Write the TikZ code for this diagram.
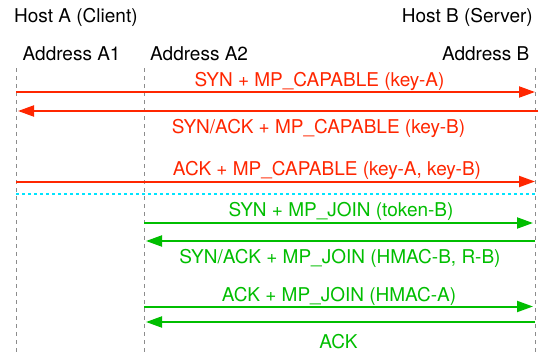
\documentclass[tikz,border=0pt]{standalone}
\usepackage{fontspec}
\setmainfont{TeX Gyre Heros}
\usetikzlibrary{arrows.meta}
\definecolor{msgred}{RGB}{255,38,0}
\definecolor{msggreen}{RGB}{0,190,0}
\definecolor{sepcyan}{RGB}{0,228,255}
\definecolor{lifegray}{RGB}{140,140,140}
\begin{document}
\begin{tikzpicture}[x=1pt,y=-1pt,
  txt/.style={inner sep=0pt,font=\fontsize{19}{23}\selectfont},
  lifeline/.style={draw=lifegray,line width=1pt,dash pattern=on 4pt off 4pt},
  msg/.style={line width=2pt,-{Triangle[length=16pt,width=11pt]}},
  redmsg/.style={msg,draw=msgred,fill=msgred},
  greenmsg/.style={msg,draw=msggreen,fill=msggreen},
  redlbl/.style={txt,anchor=base,text=msgred},
  greenlbl/.style={txt,anchor=base,text=msggreen},
  sep/.style={draw=sepcyan,line width=2pt,dash pattern=on 3pt off 3pt}]
\useasboundingbox (0,0) rectangle (550,356);
\fill[white] (0,0) rectangle (550,356);
% headers
\node[txt,anchor=base west] (hostA) at (14,23) {Host A (Client)};
\node[txt,anchor=base east] (hostB) at (533,23) {Host B (Server)};
\node[txt,anchor=base west] (addrA1) at (22.5,60) {Address A1};
\node[txt,anchor=base west] (addrA2) at (150,60) {Address A2};
\node[txt,anchor=base east] (addrB) at (529.5,60) {Address B};
% lifelines
\coordinate (a1t) at (16,68); \coordinate (a1b) at (16,356);
\coordinate (a2t) at (144,68); \coordinate (a2b) at (144,356);
\coordinate (bt) at (535,68); \coordinate (bb) at (535,356);
\draw[lifeline] (a1t) -- (a1b);
\draw[lifeline] (a2t) -- (a2b);
\draw[lifeline] (bt) -- (bb);
% message endpoints
\coordinate (m1s) at (16,92);    \coordinate (m1e) at (535,92);
\coordinate (m2s) at (538,111);  \coordinate (m2e) at (18,111);
\coordinate (m3s) at (16,181.5); \coordinate (m3e) at (535,181.5);
\coordinate (sps) at (16,194);   \coordinate (spe) at (535,194);
\coordinate (m4s) at (144,223);  \coordinate (m4e) at (533,223);
\coordinate (m5s) at (535,241);  \coordinate (m5e) at (146,241);
\coordinate (m6s) at (144,306.5);\coordinate (m6e) at (533,306.5);
\coordinate (m7s) at (535,322);  \coordinate (m7e) at (146,322);
% red messages
\node[redlbl] (l1) at (319.5,86.5) {SYN + MP\_CAPABLE (key-A)};
\draw[redmsg] (m1s) -- (m1e);
\draw[redmsg] (m2s) -- (m2e);
\node[redlbl] (l2) at (318.5,133.3) {SYN/ACK + MP\_CAPABLE (key-B)};
\node[redlbl] (l3) at (327,175) {ACK + MP\_CAPABLE (key-A, key-B)};
\draw[redmsg] (m3s) -- (m3e);
% separator
\draw[sep] (sps) -- (spe);
% green messages
\node[greenlbl] (l4) at (341,216.7) {SYN + MP\_JOIN (token-B)};
\draw[greenmsg] (m4s) -- (m4e);
\draw[greenmsg] (m5s) -- (m5e);
\node[greenlbl] (l5) at (340,263.3) {SYN/ACK + MP\_JOIN (HMAC-B, R-B)};
\node[greenlbl] (l6) at (339,301) {ACK + MP\_JOIN (HMAC-A)};
\draw[greenmsg] (m6s) -- (m6e);
\draw[greenmsg] (m7s) -- (m7e);
\node[greenlbl] (l7) at (338.5,348.3) {ACK};
\end{tikzpicture}
\end{document}
